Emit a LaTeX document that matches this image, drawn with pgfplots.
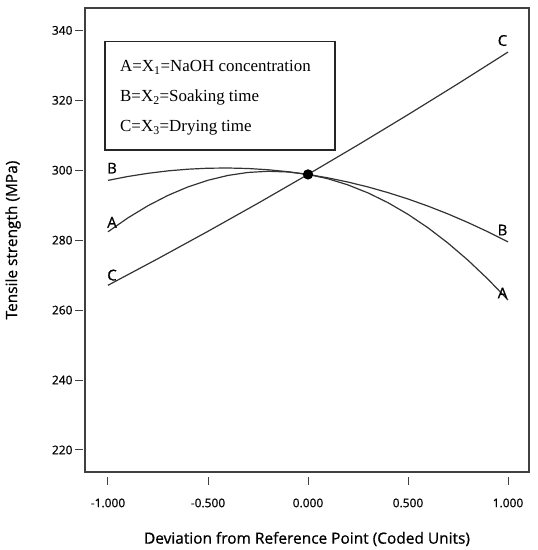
\documentclass[border=0pt]{standalone}
\usepackage{pgfplots}
\pgfplotsset{compat=1.18}
\usepackage{pgfplotstable}
\usepackage{fontspec}
\setmainfont{Open Sans}
\newfontfamily\medfont{Open Sans}[FakeBold=0.8]
\newfontfamily\timesfont{Liberation Serif}

\pgfplotstableread{
x y
-1.0 282.40
-0.9 286.39
-0.8 289.86
-0.7 292.81
-0.6 295.24
-0.5 297.14
-0.4 298.52
-0.3 299.37
-0.2 299.70
-0.1 299.51
0.0 298.80
0.1 297.56
0.2 295.80
0.3 293.52
0.4 290.72
0.5 287.39
0.6 283.54
0.7 279.16
0.8 274.26
0.9 268.84
1.0 262.90
}\curveA

\pgfplotstableread{
x y
-1.0 297.10
-0.9 298.22
-0.8 299.12
-0.7 299.82
-0.6 300.30
-0.5 300.58
-0.4 300.64
-0.3 300.50
-0.2 300.14
-0.1 299.58
0.0 298.80
0.1 297.82
0.2 296.62
0.3 295.22
0.4 293.60
0.5 291.78
0.6 289.74
0.7 287.50
0.8 285.04
0.9 282.38
1.0 279.50
}\curveB

\pgfplotstableread{
x y
-1.0 267.10
-0.75 274.72
-0.5 282.54
-0.25 290.56
0.0 298.80
0.25 307.24
0.5 315.89
0.75 324.74
1.0 333.80
}\curveC

\begin{document}
\begin{tikzpicture}
\useasboundingbox (-85bp,-78bp) rectangle (453bp,472bp);
\begin{axis}[
  at={(0,0)}, anchor=south west,
  scale only axis, width=444bp, height=464bp,
  xmin=-1.115, xmax=1.105, ymin=213.7, ymax=346.4,
  xtick={-1,-0.5,0,0.5,1},
  xticklabels={-1.000,-0.500,0.000,0.500,1.000},
  ytick={220,240,...,340},
  xtick pos=bottom, ytick pos=left,
  tick align=outside, major tick length=8bp,
  xtick style={yshift=-5bp}, ytick style={xshift=-2bp},
  axis line style={line width=1.3bp, black!75},
  tick style={line width=1bp, black!75},
  /pgf/number format/assume math mode=true,
  ticklabel style={font=\medfont\fontsize{12}{14}\selectfont},
  xticklabel style={yshift=-15bp},
  yticklabel style={xshift=-1bp},
  xlabel={Deviation from Reference Point (Coded Units)},
  ylabel={Tensile strength (MPa)},
  label style={font=\medfont\fontsize{15.5}{18}\selectfont},
  xlabel style={at={(axis description cs:0.5,-0.1444)}, anchor=center},
  ylabel style={at={(axis description cs:-0.162,0.5)}, anchor=center},
  every axis plot/.append style={line width=1.2bp, black!80},
  clip=false,
]
\addplot[no marks] table {\curveA};
\addplot[no marks] table {\curveB};
\addplot[no marks] table {\curveC};
\addplot[only marks, mark=*, mark size=4.5bp, black] coordinates {(0,298.8)};

\node[font=\medfont\fontsize{15}{17}\selectfont] at (axis cs:-0.98,300.6) {B};
\node[font=\medfont\fontsize{15}{17}\selectfont] at (axis cs:-0.98,285.1) {A};
\node[font=\medfont\fontsize{15}{17}\selectfont] at (axis cs:-0.98,270.0) {C};
\node[font=\medfont\fontsize{15}{17}\selectfont] at (axis cs:0.9725,337.1) {C};
\node[font=\medfont\fontsize{15}{17}\selectfont] at (axis cs:0.9725,282.9) {B};
\node[font=\medfont\fontsize{15}{17}\selectfont] at (axis cs:0.9725,264.9) {A};

\draw[line width=1.1bp, black!85] (rel axis cs:0.045,0.9274) rectangle (rel axis cs:0.5631,0.6940);
\node[anchor=base west, inner sep=0, font=\timesfont\fontsize{17}{20}\selectfont] at (rel axis cs:0.0788,0.8627) {A=X\textsubscript{1}=NaOH concentration};
\node[anchor=base west, inner sep=0, font=\timesfont\fontsize{17}{20}\selectfont] at (rel axis cs:0.0788,0.7981) {B=X\textsubscript{2}=Soaking time};
\node[anchor=base west, inner sep=0, font=\timesfont\fontsize{17}{20}\selectfont] at (rel axis cs:0.0788,0.7334) {C=X\textsubscript{3}=Drying time};
\end{axis}
\end{tikzpicture}
\end{document}
